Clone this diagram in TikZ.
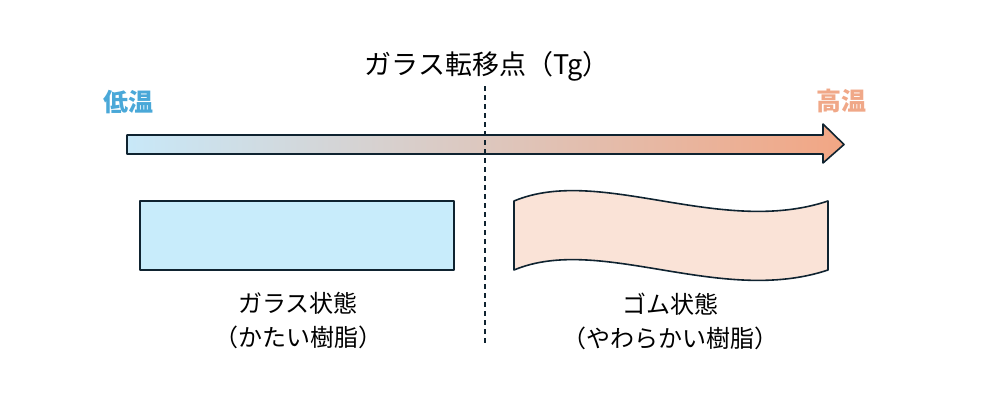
\documentclass[tikz,border=0pt]{standalone}
\usepackage{fontspec}
\setmainfont{Noto Sans CJK JP}
\usepackage{tikz}
\usetikzlibrary{positioning}
\definecolor{tlow}{RGB}{74, 168, 216}
\definecolor{thigh}{RGB}{240, 168, 136}
\definecolor{glassfill}{RGB}{200, 236, 251}
\definecolor{rubberfill}{RGB}{250, 227, 215}
\definecolor{arrowleft}{RGB}{200, 232, 248}
\definecolor{arrowright}{RGB}{242, 166, 132}
\definecolor{edge}{RGB}{15, 35, 48}
\tikzset{
    label text/.style={font=\fontsize{24}{34}\selectfont, align=center},
    title text/.style={font=\fontsize{27}{30}\selectfont},
    temp text/.style={font=\fontsize{25}{28}\selectfont\bfseries},
    outline/.style={draw=edge, line width=1.6pt, line join=round}
}

\begin{document}
\begin{tikzpicture}[x=1pt, y=-1pt]
        \useasboundingbox (0,0) rectangle (983,410);

        % Temperature arrow
        \path[outline, left color=arrowleft, right color=arrowright]
            (127,135) -- (823,135) -- (823,124) -- (844,144.5)
            -- (823,163) -- (823,154) -- (127,154) -- cycle;

        % Transition line
        \coordinate (tgtop) at (485,86);
        \coordinate (tgbottom) at (485,346);
        \draw[edge, line width=1.2pt, dash pattern=on 5pt off 4pt] (tgtop) -- (tgbottom);

        % Labels
        \node[title text] (tg) at (487,66) {ガラス転移点（Tg）};
        \node[temp text, text=tlow] (low) at (128,102) {低温};
        \node[temp text, text=thigh] (high) at (841,101) {高温};

        % Glass state
        \path[outline, fill=glassfill] (140,201) rectangle (454,270);
        \node[label text] (glass) at (298,321) {ガラス状態\\（かたい樹脂）};

        % Rubber state
        \path[outline, fill=rubberfill]
            (514,201) .. controls (600,165) and (720,237) .. (828,201)
            -- (828,270) .. controls (720,306) and (600,234) .. (514,270) -- cycle;
        \node[label text] (rubber) at (670,321) {ゴム状態\\（やわらかい樹脂）};
    \end{tikzpicture}
\end{document}
